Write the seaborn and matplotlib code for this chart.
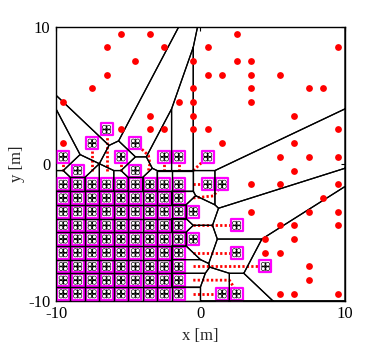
import numpy as np
import pandas as pd
import matplotlib
matplotlib.use("Agg")
import matplotlib.pyplot as plt
from matplotlib.path import Path
import seaborn as sns

# ---------------- data ----------------
# target points (red)
target_x = [-5.5, -3.5, 2.5,
            -6.5, -2.5, 0.5, 9.5,
            -4.5, -0.5, 2.5, 3.5,
            -6.5, 0.5, 1.5, 3.5, 5.5,
            -7.5, -0.5, 3.5, 7.5, 8.5,
            -9.5, -1.5, -0.5, 3.5,
            -3.5, -0.5, 6.5,
            -5.5, -3.5, -2.5, -0.5, 0.5, 9.5,
            -9.5, 1.5, 6.5,
            5.5, 7.5, 9.5,
            6.5,
            3.5, 5.5, 9.5,
            8.5,
            3.5, 7.5, 9.5,
            5.5, 6.5, 9.5,
            4.5, 6.5,
            4.5, 5.5,
            7.5,
            7.5,
            5.5, 6.5, 9.5]
target_y = [9.5, 9.5, 9.5,
            8.5, 8.5, 8.5, 8.5,
            7.5, 7.5, 7.5, 7.5,
            6.5, 6.5, 6.5, 6.5, 6.5,
            5.5, 5.5, 5.5, 5.5, 5.5,
            4.5, 4.5, 4.5, 4.5,
            3.5, 3.5, 3.5,
            2.5, 2.5, 2.5, 2.5, 2.5, 2.5,
            1.5, 1.5, 1.5,
            0.5, 0.5, 0.5,
            -0.5,
            -1.5, -1.5, -1.5,
            -2.5,
            -3.5, -3.5, -3.5,
            -4.5, -4.5, -4.5,
            -5.5, -5.5,
            -6.5, -6.5,
            -7.5,
            -8.5,
            -9.5, -9.5, -9.5]

# agents (drones): block that stayed in place
block_cols = [-9.5, -8.5, -7.5, -6.5, -5.5, -4.5, -3.5, -2.5, -1.5]
block_rows = [-1.5, -2.5, -3.5, -4.5, -5.5, -6.5, -7.5, -8.5, -9.5]
# other agents
extra_x = [-0.5, -0.5, -8.5, -4.5,
           -6.5, -7.5, -4.5, -9.5, -5.5, -2.5, -1.5, 0.5,
           0.5, 1.5, 2.5, 2.5, 4.5, 1.5, 2.5]
extra_y = [-3.5, -5.5, -0.5, -0.5,
           2.5, 1.5, 1.5, 0.5, 0.5, 0.5, 0.5, 0.5,
           -1.5, -1.5, -4.5, -6.5, -7.5, -9.5, -9.5]

# trajectories of agents that moved (red dotted)
traj_id = [1, 1,
           2, 2, 2, 2,
           3, 3,
           4, 4,
           5, 5,
           6, 6, 6, 6,
           7, 7,
           8, 8,
           9, 9,
           10, 10,
           11, 11,
           12, 12, 12, 12, 12,
           13, 13,
           14, 14,
           15, 15]
traj_x = [-0.5, 0.5,
          -0.5, 0.9, 1.3, 1.5,
          -0.5, 2.5,
          -0.5, 2.5,
          -0.5, 4.5,
          -0.5, 2.0, 2.3, 2.5,
          -0.5, 1.5,
          -9.5, -9.5,
          -7.5, -7.5,
          -6.5, -6.5,
          -5.5, -5.5,
          -3.6, -3.5, -3.6, -4.1, -4.5,
          -2.5, -2.5,
          -1.5, -1.5,
          -0.5, 0.5]
traj_y = [-1.5, -1.5,
          -2.5, -2.35, -1.8, -1.5,
          -4.5, -4.5,
          -6.5, -6.5,
          -7.5, -7.5,
          -8.5, -8.5, -9.0, -9.5,
          -9.5, -9.5,
          -0.5, 0.5,
          -0.5, 1.5,
          -0.5, 2.5,
          -0.5, 0.5,
          -0.5, 0.0, 0.6, 1.1, 1.5,
          -0.5, 0.5,
          -0.5, 0.5,
          -0.5, 0.5]

x_ticks = [-10, 0, 10]
y_ticks = [-10, 0, 10]
tick_labels = ["-10", "0", "10"]

# ---------------- derived ----------------
bx, by = np.meshgrid(block_cols, block_rows)
agent_x = np.concatenate([bx.ravel(), extra_x])
agent_y = np.concatenate([by.ravel(), extra_y])
pts = np.column_stack([agent_x, agent_y])


def clip(poly, d, c):
    out = []
    n = len(poly)
    for k in range(n):
        P = poly[k]
        Q = poly[(k + 1) % n]
        fp = P @ d - c
        fq = Q @ d - c
        if fp <= 1e-12:
            out.append(P)
        if (fp < -1e-12 and fq > 1e-12) or (fp > 1e-12 and fq < -1e-12):
            t = fp / (fp - fq)
            out.append(P + t * (Q - P))
    return out


box = [np.array(v, float) for v in [(-10, -10), (10, -10), (10, 10), (-10, 10)]]
rows = []
for i, p in enumerate(pts):
    poly = list(box)
    for j, q in enumerate(pts):
        if i == j:
            continue
        d = q - p
        m = (p + q) / 2
        poly = clip(poly, d, m @ d)
        if not poly:
            break
    if poly:
        for v in poly + [poly[0]]:
            rows.append((i, v[0], v[1]))
vor_df = pd.DataFrame(rows, columns=["cell", "x", "y"])

traj_df = pd.DataFrame({"traj": traj_id, "x": traj_x, "y": traj_y})

# quadcopter icon path
circles = [Path.circle((cx, cy), 0.42) for cx in (-0.5, 0.5) for cy in (-0.5, 0.5)]
cross = [Path([(-1.0, 0.0), (1.0, 0.0)], [Path.MOVETO, Path.LINETO]),
         Path([(0.0, -1.0), (0.0, 1.0)], [Path.MOVETO, Path.LINETO])]
quad = Path.make_compound_path(*(circles + cross))

# ---------------- plot ----------------
sns.set_style("white")
plt.rcParams["font.family"] = ["Liberation Serif", "DejaVu Serif"]
plt.rcParams["axes.unicode_minus"] = False

fig = plt.figure(figsize=(3.82, 3.47), dpi=100)
ax = fig.add_axes([0.1466, 0.1334, 0.903 - 0.1466, 0.923 - 0.1334])

sns.lineplot(data=traj_df, x="x", y="y", units="traj", estimator=None, sort=False,
             color="red", linewidth=2.0, linestyle=(0, (0.8, 0.8)), ax=ax, zorder=2)
sns.scatterplot(x=agent_x, y=agent_y, marker="s", s=74, facecolor="white",
                edgecolor="#ff00ff", linewidth=1.6, ax=ax, zorder=3)
sns.lineplot(data=vor_df, x="x", y="y", units="cell", estimator=None, sort=False,
             color="black", linewidth=0.9, ax=ax, zorder=4)
sns.scatterplot(x=agent_x, y=agent_y, marker=quad, s=42, facecolor="none",
                edgecolor="black", linewidth=0.45, ax=ax, zorder=5)
sns.scatterplot(x=target_x, y=target_y, color="red", s=24, linewidth=0, ax=ax, zorder=5)

ax.set_xlim(-10, 10)
ax.set_ylim(-10, 10)
ax.set_xticks(x_ticks)
ax.set_xticklabels(tick_labels)
ax.set_yticks(y_ticks)
ax.set_yticklabels(tick_labels)
ax.tick_params(direction="in", top=True, right=True, length=3, width=0.8,
               labelsize=12, colors="black", pad=4)
for sp in ax.spines.values():
    sp.set_color("black")
    sp.set_linewidth(1.0)
    sp.set_visible(True)
ax.set_xlabel("x [m]", fontsize=12, labelpad=4)
ax.set_ylabel("y [m]", fontsize=12, labelpad=2)

fig.savefig("out.png", dpi=100)
